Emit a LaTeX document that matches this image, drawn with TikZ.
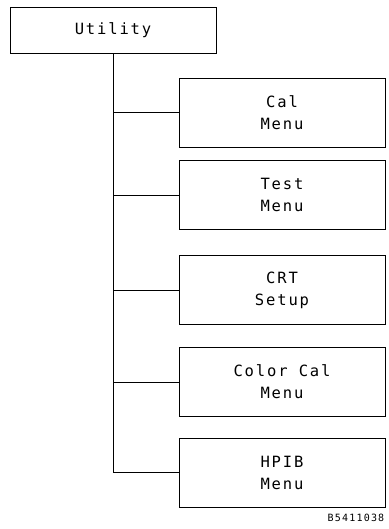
\documentclass[tikz,border=0pt]{standalone}
\usepackage{fontspec}
\newfontfamily\plotfont[LetterSpace=12]{DejaVu Sans Mono}
\usetikzlibrary{positioning}

\begin{document}
\begin{tikzpicture}[x=1pt, y=-1pt, line width=0.8pt,
    every node/.style={font=\plotfont\fontsize{15.5}{22}\selectfont},
    menubox/.style={draw, minimum width=206pt, minimum height=69pt,
      align=center}]
    \useasboundingbox (0,0) rectangle (388,529);
    \node[draw, minimum width=206pt, minimum height=46pt] (util) at (113, 30) {Utility};
    \node[menubox] (cal) at (282, 112.5) {Cal\\Menu};
    \node[menubox] (test) at (282, 195) {Test\\Menu};
    \node[menubox] (crt) at (282, 290) {CRT\\Setup};
    \node[menubox] (ccal) at (282, 382) {Color Cal\\Menu};
    \node[menubox] (hpib) at (282, 472.5) {HPIB\\Menu};
    \draw (util.south) |- (hpib.west);
    \foreach \m in {cal, test, crt, ccal}
      \draw (util.south) |- (\m.west);
    \node[anchor=east, font=\plotfont\fontsize{10}{11}\selectfont] (fig) at (388, 518) {B5411038};
  \end{tikzpicture}
\end{document}
